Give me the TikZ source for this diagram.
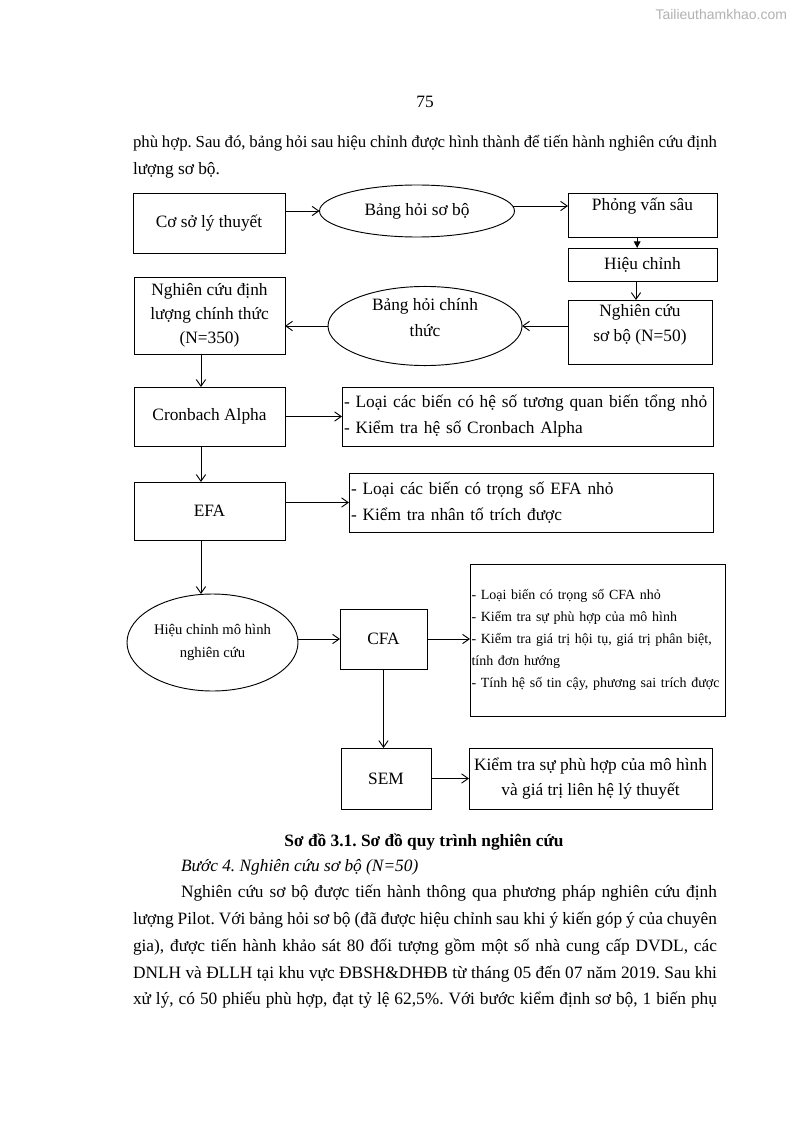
\documentclass[tikz,border=0pt]{standalone}
\usepackage{fontspec}
\setmainfont{Liberation Serif}
\newfontfamily\wmfont{Liberation Sans}
\usetikzlibrary{shapes.geometric,arrows.meta,calc}
\frenchspacing
\begin{document}
\begin{tikzpicture}[x=0.75pt,y=-0.75pt,
  every node/.style={inner sep=0pt,outer sep=0pt},
  shp/.style={draw,line width=0.7pt,align=center,font=\fontsize{13}{18.5}\selectfont},
  rbox/.style={shp,rectangle},
  oval/.style={shp,ellipse},
  lbox/.style={draw,line width=0.7pt,rectangle,align=left,inner xsep=1.5pt,font=\fontsize{13}{19.5}\selectfont},
  arr/.style={line width=0.7pt,-{Straight Barb[length=5pt,width=7pt]}},
  farr/.style={line width=0.7pt,-{Triangle[length=5pt,width=5pt]}},
  txt/.style={anchor=base west,font=\fontsize{13}{20}\selectfont},
]
\useasboundingbox (0,0) rectangle (795,1123);
\fill[white] (0,0) rectangle (795,1123);

% header
\node[anchor=base east,font=\wmfont\fontsize{10.5}{12}\selectfont,text=gray!60] (wm) at (787,20) {Tailieuthamkhao.com};
\node[anchor=base,font=\fontsize{13}{16}\selectfont] (pn) at (425,108) {75};
\node[txt,font=\fontsize{12.6}{20}\selectfont] (t1) at (133,148) {\makebox[438pt][s]{phù hợp. Sau đó, bảng hỏi sau hiệu chỉnh được hình thành để tiến hành nghiên cứu định}};
\node[txt] (t2) at (133,175) {lượng sơ bộ.};

% diagram nodes
\node[rbox,minimum width=114pt,minimum height=45pt] (cs) at (209,223) {Cơ sở lý thuyết};
\node[oval,minimum width=146.25pt,minimum height=39pt] (bh1) at (417,211) {Bảng hỏi sơ bộ};
\node[rbox,minimum width=111.75pt,minimum height=33pt] (pvs) at (642.5,215) {Phỏng vấn sâu\rule[-16pt]{0pt}{0pt}};
\node[rbox,minimum width=111.75pt,minimum height=24.75pt] (hc) at (642.5,264.5) {Hiệu chỉnh};
\node[rbox,minimum width=108pt,minimum height=48pt,font=\fontsize{13}{18.75}\selectfont] (ncsb) at (640,332) {Nghiên cứu\\sơ bộ (N=50)\rule[-13.4pt]{0pt}{0pt}};
\node[oval,minimum width=145.5pt,minimum height=54pt,font=\fontsize{13}{19.5}\selectfont] (bh2) at (425,326) {Bảng hỏi chính\\thức\rule[-13.4pt]{0pt}{0pt}};
\node[rbox,minimum width=113.25pt,minimum height=57.75pt,font=\fontsize{13}{18}\selectfont] (ncdl) at (209.5,315.5) {Nghiên cứu định\\lượng chính thức\\(N=350)};
\node[rbox,minimum width=113.25pt,minimum height=44.25pt] (cron) at (209.5,416.5) {Cronbach Alpha};
\node[lbox,minimum width=278.25pt,minimum height=44.25pt,text width=275.25pt] (list1) at (527.5,416.5) {- Loại các biến có hệ số tương quan biến tổng nhỏ\\- Kiểm tra hệ số Cronbach Alpha};
\node[rbox,minimum width=113.25pt,minimum height=43.5pt] (efa) at (209.5,511) {EFA};
\node[lbox,minimum width=273pt,minimum height=44.25pt,text width=270pt] (list2) at (531,502.5) {- Loại các biến có trọng số EFA nhỏ\\- Kiểm tra nhân tố trích được};
\node[oval,minimum width=128.25pt,minimum height=72.75pt,font=\fontsize{11}{17}\selectfont] (ell3) at (212.5,642.5) {Hiệu chỉnh mô hình\\nghiên cứu};
\node[rbox,minimum width=65.25pt,minimum height=45pt] (cfa) at (383.5,639) {CFA};
\node[lbox,minimum width=191.25pt,minimum height=114pt,text width=189pt,inner xsep=1pt,font=\fontsize{10.5}{16.5}\selectfont] (box3) at (597.5,640) {\mbox{- Loại biến có trọng số CFA nhỏ}\\\mbox{- Kiểm tra sự phù hợp của mô hình}\\\mbox{- Kiểm tra giá trị hội tụ, giá trị phân biệt,}\\\mbox{tính đơn hướng}\\\mbox{- Tính hệ số tin cậy, phương sai trích được}};
\node[rbox,minimum width=67.5pt,minimum height=45.75pt] (sem) at (386,778.5) {SEM};
\node[rbox,minimum width=182.25pt,minimum height=45.75pt,font=\fontsize{13}{18.75}\selectfont] (box4) at (590.5,778.5) {Kiểm tra sự phù hợp của mô hình\\và giá trị liên hệ lý thuyết};

% connectors
\draw[arr] (cs.east |- bh1.west) -- (bh1.west);
\draw[arr] (bh1.3.6) -- (pvs.west |- bh1.3.6);
\draw[farr] ([xshift=-4pt]pvs.south) -- ([xshift=-4pt]pvs.south |- hc.north);
\draw[arr] ([xshift=-4.9pt]hc.south) -- ([xshift=-4.9pt]hc.south |- ncsb.north);
\draw[arr] (ncsb.west |- bh2.east) -- (bh2.east);
\draw[arr] (bh2.west) -- (ncdl.east |- bh2.west);
\draw[arr] ([xshift=-6.4pt]ncdl.south) -- ([xshift=-6.4pt]ncdl.south |- cron.north);
\draw[arr] (cron.east) -- (list1.west);
\draw[arr] ([xshift=-6.4pt]cron.south) -- ([xshift=-6.4pt]cron.south |- efa.north);
\draw[arr] (efa.east |- list2.west) -- (list2.west);
\draw[arr] ([xshift=-6.4pt]efa.south) -- ([xshift=-6.4pt]efa.south |- ell3.north);
\draw[arr] (ell3.east |- cfa.west) -- (cfa.west);
\draw[arr] (cfa.east) -- (box3.west |- cfa.east);
\draw[arr] (cfa.south) -- (cfa.south |- sem.north);
\draw[arr] (sem.east) -- (box4.west);

% caption and following text
\node[anchor=base,font=\fontsize{13}{16}\selectfont\bfseries] (cap) at (424,846) {Sơ đồ 3.1. Sơ đồ quy trình nghiên cứu};
\node[txt,font=\fontsize{13}{16}\selectfont\itshape] (h4) at (181,871) {Bước 4. Nghiên cứu sơ bộ (N=50)};
\node[txt] (p1) at (181,897) {\makebox[402pt][s]{Nghiên cứu sơ bộ được tiến hành thông qua phương pháp nghiên cứu định}};
\node[txt] (p2) at (133,924) {\makebox[438pt][s]{lượng Pilot. Với bảng hỏi sơ bộ (đã được hiệu chỉnh sau khi ý kiến góp ý của chuyên}};
\node[txt] (p3) at (133,951) {\makebox[438pt][s]{gia), được tiến hành khảo sát 80 đối tượng gồm một số nhà cung cấp DVDL, các}};
\node[txt] (p4) at (133,978) {\makebox[438pt][s]{DNLH và ĐLLH tại khu vực ĐBSH\&DHĐB từ tháng 05 đến 07 năm 2019. Sau khi}};
\node[txt] (p5) at (133,1004) {\makebox[438pt][s]{xử lý, có 50 phiếu phù hợp, đạt tỷ lệ 62,5\%. Với bước kiểm định sơ bộ, 1 biến phụ}};
\end{tikzpicture}
\end{document}
